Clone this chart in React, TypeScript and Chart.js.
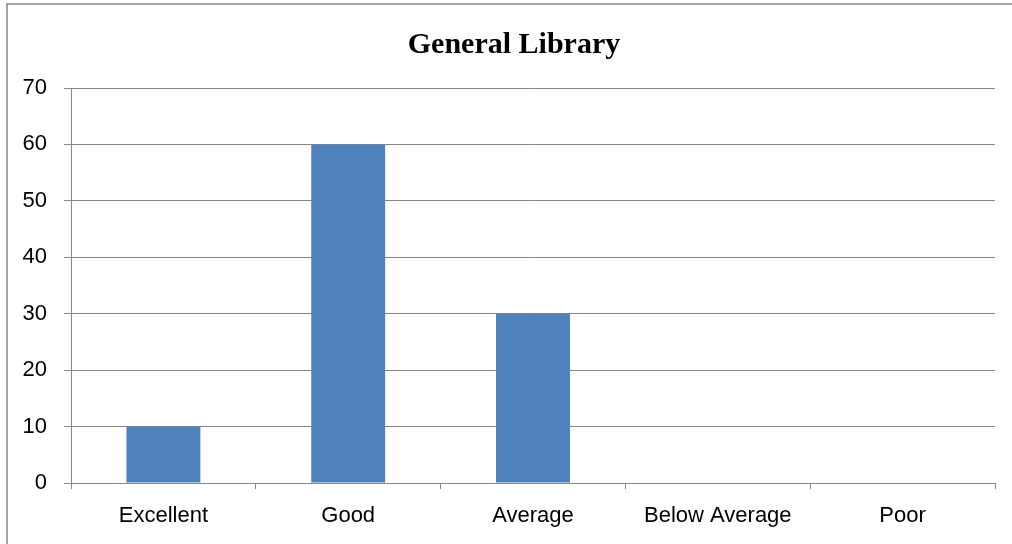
import React, { useEffect, useRef } from "react";
import { Chart, registerables } from "chart.js";

Chart.register(...registerables);

const title = "General Library";
const categories = ["Excellent", "Good", "Average", "Below Average", "Poor"];
const values = [10, 60, 30, 0, 0];
const yMin = 0;
const yMax = 70;
const yStep = 10;

const GRID = "#868686";
const BAR = "#4F81BD";

const framePlugin = {
  id: "frameAndTitle",
  beforeDraw(chart: any) {
    const ctx = chart.ctx;
    ctx.save();
    ctx.fillStyle = "#ffffff";
    ctx.fillRect(0, 0, chart.width, chart.height);
    ctx.strokeStyle = GRID;
    ctx.lineWidth = 1.5;
    ctx.strokeRect(7, 4, 2000, 2000);
    ctx.fillStyle = "#000000";
    ctx.font = "bold 30px 'Liberation Serif', 'Times New Roman', serif";
    ctx.textAlign = "center";
    ctx.textBaseline = "alphabetic";
    ctx.fillText(title, 514, 53);
    ctx.restore();
  },
};

export default function App() {
  const ref = useRef<HTMLCanvasElement | null>(null);
  useEffect(() => {
    if (!ref.current) return;
    const chart = new Chart(ref.current, {
      type: "bar",
      data: {
        labels: categories,
        datasets: [
          {
            data: values,
            backgroundColor: BAR,
            borderWidth: 0,
            barPercentage: 0.4,
            categoryPercentage: 1,
          },
        ],
      },
      options: {
        responsive: false,
        animation: false,
        layout: { padding: { left: 0, right: 17, top: 88, bottom: 0 } },
        plugins: { legend: { display: false }, title: { display: false }, tooltip: { enabled: false } },
        scales: {
          x: {
            offset: true,
            grid: { display: true, drawOnChartArea: false, drawTicks: true, tickLength: 6, color: GRID, lineWidth: 1, offset: true },
            border: { display: true, color: GRID, width: 1 },
            ticks: {
              color: "#000000",
              font: { family: "'Liberation Sans', Arial, sans-serif", size: 22 },
              padding: 14,
              maxRotation: 0,
              autoSkip: false,
            },
            afterFit(scale: any) {
              scale.height = 61;
            },
          },
          y: {
            min: yMin,
            max: yMax,
            grid: { color: GRID, lineWidth: 1, drawTicks: true, tickLength: 7 },
            border: { display: true, color: GRID, width: 1 },
            ticks: {
              stepSize: yStep,
              color: "#000000",
              font: { family: "'Liberation Sans', Arial, sans-serif", size: 22 },
              padding: 17,
            },
            afterFit(scale: any) {
              scale.width = 71;
            },
          },
        },
      },
      plugins: [framePlugin],
    });
    return () => chart.destroy();
  }, []);
  return (
    <div style={{ position: "absolute", left: 0, top: 0, width: 1012, height: 544 }}>
      <canvas ref={ref} width={1012} height={544} style={{ display: "block", width: 1012, height: 544 }} />
    </div>
  );
}
